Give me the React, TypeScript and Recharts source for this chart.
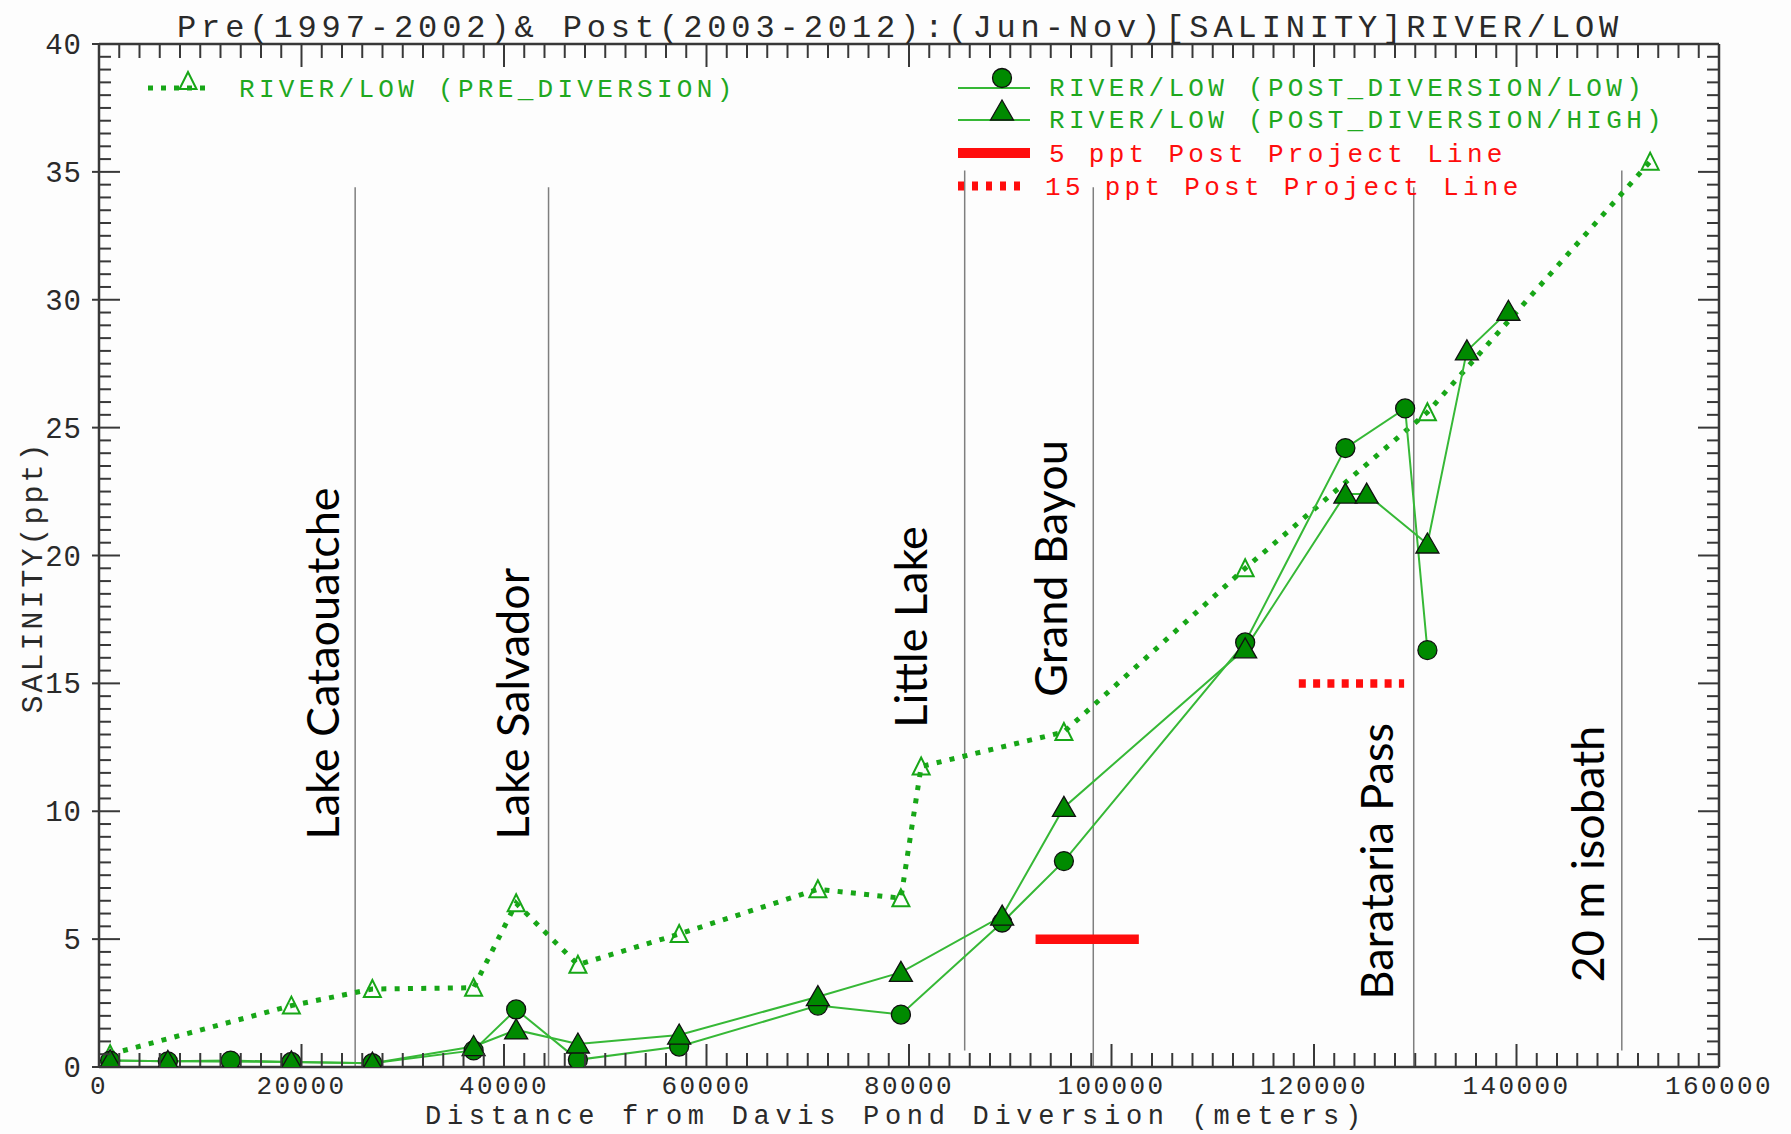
import React from 'react';
import { LineChart, Line, XAxis, YAxis, ReferenceLine, ReferenceDot } from 'recharts';

// Pre-diversion (1997-2002) mean salinity by station
const preDist = [1100, 19000, 27000, 37000, 41200, 47300, 57300, 71000, 79200, 81200, 95300, 113200, 131200, 153200];
const preSal = [0.5, 2.4, 3.05, 3.1, 6.4, 4.0, 5.2, 6.95, 6.6, 11.75, 13.1, 19.5, 25.6, 35.4];

// Post-diversion (2003-2012), low diversion flow
const lowDist = [1100, 6800, 13000, 19000, 27000, 37000, 41200, 47300, 57300, 71000, 79200, 89200, 95300, 113200, 123100, 129000, 131200];
const lowSal = [0.25, 0.22, 0.25, 0.2, 0.15, 0.65, 2.25, 0.28, 0.8, 2.4, 2.05, 5.65, 8.05, 16.6, 24.2, 25.75, 16.3];

// Post-diversion (2003-2012), high diversion flow
const highDist = [1100, 6800, 19000, 27000, 37000, 41200, 47300, 57300, 71000, 79200, 89200, 95300, 113200, 123100, 125200, 131200, 135100, 139200];
const highSal = [0.25, 0.22, 0.2, 0.15, 0.8, 1.45, 0.9, 1.25, 2.75, 3.7, 5.9, 10.15, 16.35, 22.4, 22.4, 20.45, 28.0, 29.55];

// Landmarks along the transect
const siteNames = ['Lake Cataouatche', 'Lake Salvador', 'Little Lake', 'Grand Bayou', 'Barataria Pass', '20 m isobath'];
const siteDist = [25300, 44400, 85500, 98200, 129850, 150400];
const siteTop = [34.4, 34.4, 35.05, 34.4, 34.4, 35.05];
const siteBottom = [0, 0, 0.65, 0, 0, 0.65];
const siteLabelDist = [23750, 42500, 81800, 95600, 127800, 148600];
const siteLabelSal = [8.9, 8.9, 13.27, 14.48, 2.64, 3.31];

// Post project target lines (ppt)
const targetSal = [5, 15];
const targetFrom = [92500, 118500];
const targetTo = [102700, 128900];

const X_MAX = 160000;
const X_MAJOR = 20000;
const X_MINOR = 2000;
const Y_MAX = 40;
const Y_MAJOR = 5;
const Y_MINOR = 0.5;

const xTicks: number[] = [];
for (let v = 0; v <= X_MAX; v += X_MINOR) xTicks.push(v);
const yTicks: number[] = [];
for (let i = 0; i <= Y_MAX / Y_MINOR; i++) yTicks.push(i * Y_MINOR);

const toPoints = (dist: number[], sal: number[]) => dist.map((d, i) => ({ dist: d, sal: sal[i] }));
const preData = toPoints(preDist, preSal);
const lowData = toPoints(lowDist, lowSal);
const highData = toPoints(highDist, highSal);

const AXIS = '#383838';
const TEXT = '#2a2a2a';
const MONO = '"Liberation Mono", "DejaVu Sans Mono", monospace';
const GREEN_LINE = '#36b836';
const GREEN_DOT = '#17a617';
const GREEN_TEXT = '#1fa81f';
const MARK = '#008a00';
const RED = '#ff0d0d';
const SITE = '#7f7f7f';

const BottomTick = ({ x, y, payload }: any) => {
  const major = payload.value % X_MAJOR === 0;
  return (
    <g>
      <line x1={x} x2={x} y1={y} y2={y - (major ? 23 : 14)} stroke={AXIS} strokeWidth={2} />
      {major && (
        <text x={x} y={y + 27} textAnchor="middle" fontFamily={MONO} fontSize={26} letterSpacing={2.4} fill={TEXT}>
          {payload.value}
        </text>
      )}
    </g>
  );
};

const TopTick = ({ x, y, payload }: any) => {
  const major = payload.value % X_MAJOR === 0;
  return <line x1={x} x2={x} y1={y} y2={y + (major ? 23 : 14)} stroke={AXIS} strokeWidth={2} />;
};

const LeftTick = ({ x, y, payload }: any) => {
  const major = payload.value % Y_MAJOR === 0;
  return (
    <g>
      <line x1={major ? x - 7 : x} x2={x + (major ? 21 : 12)} y1={y} y2={y} stroke={AXIS} strokeWidth={2} />
      {major && (
        <text x={x - 17} y={y + 10} textAnchor="end" fontFamily={MONO} fontSize={29} letterSpacing={1} fill={TEXT}>
          {payload.value}
        </text>
      )}
    </g>
  );
};

const RightTick = ({ x, y, payload }: any) => {
  const major = payload.value % Y_MAJOR === 0;
  return <line x1={x} x2={x - (major ? 21 : 12)} y1={y} y2={y} stroke={AXIS} strokeWidth={2} />;
};

const OpenTriangle = ({ cx, cy, index }: any) => (
  <polygon
    key={`pre-${index}`}
    points={`${cx},${cy - 9} ${cx - 8.5},${cy + 8} ${cx + 8.5},${cy + 8}`}
    fill="none"
    stroke={GREEN_DOT}
    strokeWidth={2}
  />
);

const FilledCircle = ({ cx, cy, index }: any) => (
  <circle key={`low-${index}`} cx={cx} cy={cy} r={9.5} fill={MARK} stroke="#111" strokeWidth={1.3} />
);

const FilledTriangle = ({ cx, cy, index }: any) => (
  <polygon
    key={`high-${index}`}
    points={`${cx},${cy - 11} ${cx - 11.5},${cy + 9} ${cx + 11.5},${cy + 9}`}
    fill={MARK}
    stroke="#111"
    strokeWidth={1.3}
  />
);

const siteLabel = (name: string) => ({ cx, cy }: any) => (
  <text
    x={cx}
    y={cy}
    transform={`rotate(-90 ${cx} ${cy})`}
    textAnchor="start"
    fontFamily="Lato, 'Open Sans', sans-serif"
    fontSize={45}
    fill="#000"
  >
    {name}
  </text>
);

const legendText = { fontFamily: MONO, fontSize: 26, letterSpacing: 4.3 };

const Overlay = () => (
  <svg width={1791} height={1134} style={{ position: 'absolute', left: 0, top: 0, pointerEvents: 'none' }}>
    <text x={177} y={37} fontFamily={MONO} fontSize={32} letterSpacing={4.9} fill={TEXT}>
      Pre(1997-2002)&amp; Post(2003-2012):(Jun-Nov)[SALINITY]RIVER/LOW
    </text>
    <text x={425} y={1124} fontFamily={MONO} fontSize={27} letterSpacing={5.7} fill={TEXT}>
      Distance from Davis Pond Diversion (meters)
    </text>
    <text
      x={42}
      y={577}
      transform="rotate(-90 42 577)"
      textAnchor="middle"
      fontFamily={MONO}
      fontSize={30}
      letterSpacing={3}
      fill={TEXT}
    >
      SALINITY(ppt)
    </text>

    {/* legend, left block */}
    <line x1={148} x2={212} y1={88} y2={88} stroke={GREEN_DOT} strokeWidth={5} strokeDasharray="5 8" />
    <polygon points="188,72 179.5,89 196.5,89" fill="none" stroke={GREEN_DOT} strokeWidth={2} />
    <text x={239} y={97} fill={GREEN_TEXT} {...legendText}>RIVER/LOW (PRE_DIVERSION)</text>

    {/* legend, right block */}
    <line x1={958} x2={1030} y1={88} y2={88} stroke={GREEN_LINE} strokeWidth={2} />
    <circle cx={1002} cy={78} r={9.5} fill={MARK} stroke="#111" strokeWidth={1.3} />
    <text x={1049} y={96} fill={GREEN_TEXT} {...legendText}>RIVER/LOW (POST_DIVERSION/LOW)</text>

    <line x1={958} x2={1030} y1={120} y2={120} stroke={GREEN_LINE} strokeWidth={2} />
    <polygon points="1002,100 990.5,120 1013.5,120" fill={MARK} stroke="#111" strokeWidth={1.3} />
    <text x={1049} y={128} fill={GREEN_TEXT} {...legendText}>RIVER/LOW (POST_DIVERSION/HIGH)</text>

    <line x1={958} x2={1030} y1={153} y2={153} stroke={RED} strokeWidth={10} />
    <text x={1049} y={162} fill={RED} {...legendText}>5 ppt Post Project Line</text>

    <line x1={958} x2={1024} y1={186} y2={186} stroke={RED} strokeWidth={9} strokeDasharray="6 8" />
    <text x={1045} y={195} fill={RED} {...legendText}>15 ppt Post Project Line</text>
  </svg>
);

export default function App() {
  return (
    <div style={{ position: 'absolute', left: 0, top: 0, width: 1791, height: 1134, background: '#fdfdfd' }}>
      <LineChart width={1791} height={1134} margin={{ top: 34, right: 62, bottom: 17, left: 39 }}>
        <XAxis
          dataKey="dist"
          type="number"
          domain={[0, X_MAX]}
          ticks={xTicks}
          interval={0}
          height={50}
          tickSize={0}
          tickMargin={0}
          tickLine={false}
          axisLine={{ stroke: AXIS, strokeWidth: 2.5 }}
          tick={BottomTick}
          allowDataOverflow
        />
        <XAxis
          xAxisId="top"
          orientation="top"
          dataKey="dist"
          type="number"
          domain={[0, X_MAX]}
          ticks={xTicks}
          interval={0}
          height={10}
          tickSize={0}
          tickMargin={0}
          tickLine={false}
          axisLine={{ stroke: AXIS, strokeWidth: 2.5 }}
          tick={TopTick}
          allowDataOverflow
        />
        <YAxis
          type="number"
          domain={[0, Y_MAX]}
          ticks={yTicks}
          interval={0}
          width={60}
          tickSize={0}
          tickMargin={0}
          tickLine={false}
          axisLine={{ stroke: AXIS, strokeWidth: 2.5 }}
          tick={LeftTick}
          allowDataOverflow
        />
        <YAxis
          yAxisId="right"
          orientation="right"
          type="number"
          domain={[0, Y_MAX]}
          ticks={yTicks}
          interval={0}
          width={10}
          tickSize={0}
          tickMargin={0}
          tickLine={false}
          axisLine={{ stroke: AXIS, strokeWidth: 2.5 }}
          tick={RightTick}
          allowDataOverflow
        />

        {siteNames.map((name, i) => (
          <ReferenceLine
            key={`site-${name}`}
            segment={[
              { x: siteDist[i], y: siteBottom[i] },
              { x: siteDist[i], y: siteTop[i] },
            ]}
            stroke={SITE}
            strokeWidth={1.5}
          />
        ))}
        {siteNames.map((name, i) => (
          <ReferenceDot
            key={`label-${name}`}
            x={siteLabelDist[i]}
            y={siteLabelSal[i]}
            r={1}
            shape={siteLabel(name)}
          />
        ))}

        {targetSal.map((s, i) => (
          <ReferenceLine
            key={`target-${s}`}
            segment={[
              { x: targetFrom[i], y: s },
              { x: targetTo[i], y: s },
            ]}
            stroke={RED}
            strokeWidth={i === 0 ? 9.5 : 8.5}
            strokeDasharray={i === 0 ? undefined : '7 7.3'}
          />
        ))}

        <Line
          data={preData}
          dataKey="sal"
          type="linear"
          stroke={GREEN_DOT}
          strokeWidth={5}
          strokeDasharray="5 8.3"
          dot={OpenTriangle}
          activeDot={false}
          isAnimationActive={false}
        />
        <Line
          data={lowData}
          dataKey="sal"
          type="linear"
          stroke={GREEN_LINE}
          strokeWidth={2}
          dot={FilledCircle}
          activeDot={false}
          isAnimationActive={false}
        />
        <Line
          data={highData}
          dataKey="sal"
          type="linear"
          stroke={GREEN_LINE}
          strokeWidth={2}
          dot={FilledTriangle}
          activeDot={false}
          isAnimationActive={false}
        />
      </LineChart>
      <Overlay />
    </div>
  );
}
